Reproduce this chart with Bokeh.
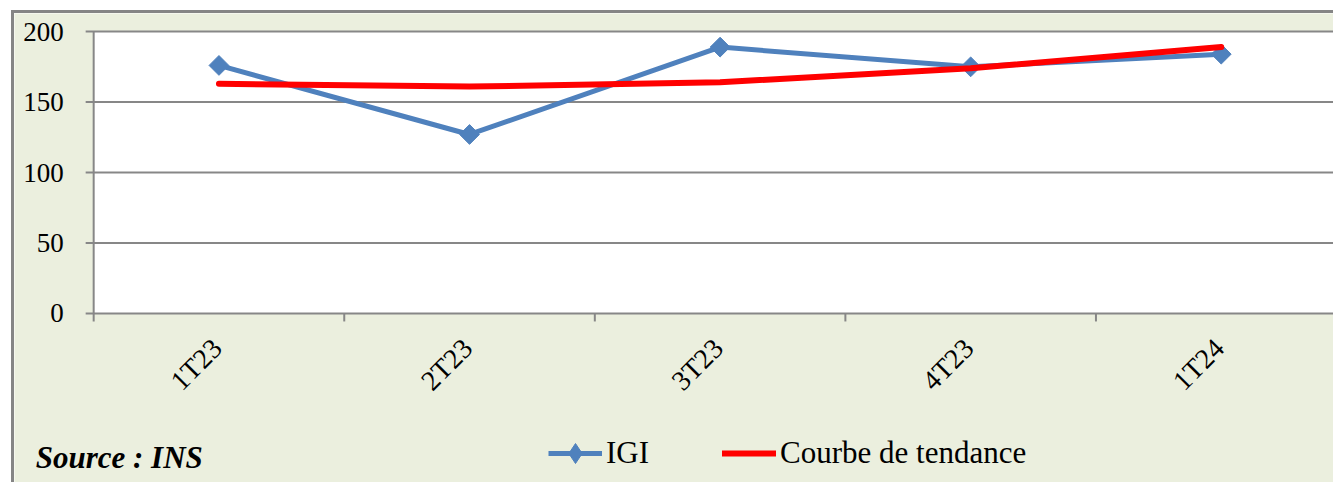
from math import pi
from bokeh.plotting import figure
from bokeh.models import Range1d, Legend, LegendItem, BoxAnnotation
from bokeh.embed import file_html
from bokeh.resources import INLINE

categories = ["1T23", "2T23", "3T23", "4T23", "1T24"]
igi = [176, 127, 189, 175, 184]
tendance = [163, 161, 164, 174, 189]
y_ticks = [0, 50, 100, 150, 200]
y_labels = ["0", "50", "100", "150", "200"]
source_text = "Source : INS"

xs = list(range(1, len(categories) + 1))
bounds = [i + 0.5 for i in range(0, len(categories) + 1)]

BG = "#EBEFDE"
GRID = "#878787"
FONT = "Liberation Serif"
BORDER = 3
W, H = 1322, 472           # host size incl. 3px border (border-box)
CW, CH = W - BORDER, H - BORDER
AXIS_PX = 79               # content-left to value axis
TOP_GAP = 18               # content-top to the 200 gridline
CAT_PX = 250
PX_PER_UNIT = 1.4          # 50 units = 70 px
X_START = 0.5 - AXIS_PX / CAT_PX
X_END = X_START + CW / CAT_PX
Y_TOP = 200 + TOP_GAP / PX_PER_UNIT
Y_BOT = Y_TOP - CH / PX_PER_UNIT
TICK = 8

p = figure(width=W, height=H, output_backend="svg", toolbar_location=None,
           x_range=Range1d(X_START, X_END), y_range=Range1d(Y_BOT, Y_TOP),
           min_border_left=0, min_border_top=0, min_border_right=0,
           min_border_bottom=0,
           styles={"margin-left": "11px", "margin-top": "10px",
                   "border-left": "3px solid #858585", "border-top": "3px solid #858585"})
p.border_fill_color = BG
p.background_fill_color = BG
p.outline_line_color = None
p.xaxis.visible = False
p.yaxis.visible = False
p.xgrid.grid_line_color = None
p.ygrid.grid_line_color = None

# white plot area
p.add_layout(BoxAnnotation(left=0.5, bottom=0, top=200, fill_color="white", fill_alpha=1,
                           line_color=None, level="image"))

n = len(y_ticks)
# horizontal gridlines with their left tick stubs
p.segment(x0=[0.5 - TICK / CAT_PX] * n, y0=y_ticks, x1=[X_END] * n, y1=y_ticks,
          line_color=GRID, line_width=2)
# value axis line
p.segment(x0=[0.5], y0=[y_ticks[0]], x1=[0.5], y1=[y_ticks[-1]], line_color=GRID, line_width=2)
# category tick marks
p.segment(x0=bounds, y0=[0] * len(bounds), x1=bounds,
          y1=[-TICK / PX_PER_UNIT] * len(bounds), line_color=GRID, line_width=2)

# value labels
p.text(x=[0.5] * n, y=y_ticks, text=y_labels, text_align="right", text_baseline="middle",
       x_offset=-30, text_font={"value": FONT}, text_font_size="27px", text_color="black")
# category labels
p.text(x=xs, y=[0] * len(xs), text=categories, angle=pi / 4,
       text_align="right", text_baseline="middle", x_offset=-2, y_offset=30,
       text_font={"value": FONT}, text_font_size="28px", text_color="black")

l1 = p.line(xs, igi, line_color="#4F81BD", line_width=5)
p.scatter(xs, igi, marker="square", angle=pi / 4, size=14,
          fill_color="#4F81BD", line_color="#4F81BD")
# diamond used only for the legend swatch
leg_marker = p.scatter(xs, igi, marker="diamond", size=20,
                       fill_color="#4F81BD", line_color="#4F81BD", visible=False)
l2 = p.line(xs, tendance, line_color="#FF0000", line_width=6, line_cap="round")

legend = Legend(items=[LegendItem(label="IGI", renderers=[l1, leg_marker]),
                       LegendItem(label="Courbe de tendance", renderers=[l2])],
                orientation="horizontal", location=(455 + AXIS_PX, 7),
                glyph_width=54, glyph_height=50, label_height=30, label_standoff=4,
                spacing=73, padding=0, margin=0, border_line_color=None,
                background_fill_alpha=0, inactive_fill_alpha=0,
                label_text_font=FONT, label_text_font_size="31px", label_text_color="black")
p.add_layout(legend, "center")

# source note
p.text(x=[0.5], y=[0], text=[source_text], x_offset=-58, y_offset=144,
       text_baseline="middle", text_font={"value": FONT}, text_font_size="31px",
       text_font_style="bold italic", text_color="black")

open("out.html", "w").write(file_html(p, INLINE))
